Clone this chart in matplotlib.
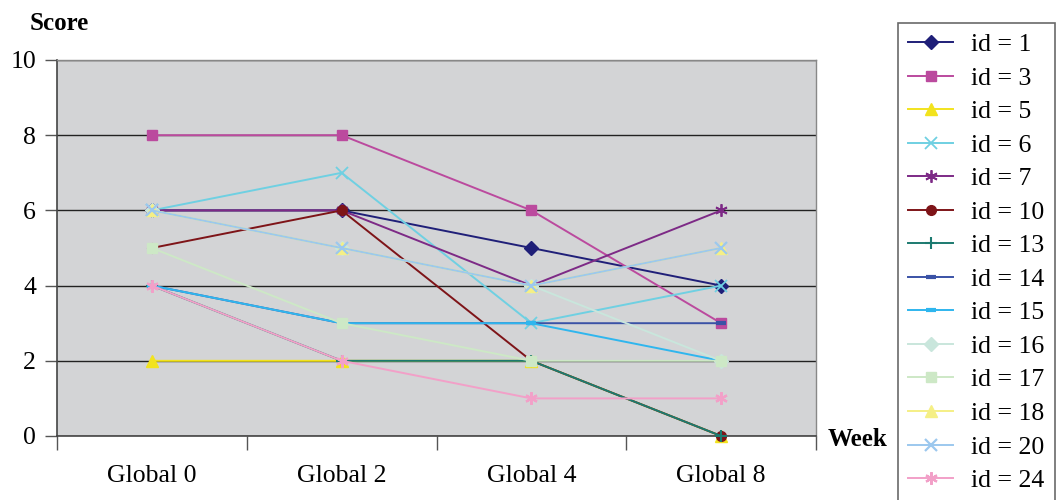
import numpy as np
import matplotlib
matplotlib.use("Agg")
import matplotlib.pyplot as plt
from matplotlib.lines import Line2D

plt.rcParams["font.family"] = ["Liberation Serif", "DejaVu Serif"]

# scores per patient over the four visits
weeks = ["Global 0", "Global 2", "Global 4", "Global 8"]
id_1 = [6, 6, 5, 4]
id_3 = [8, 8, 6, 3]
id_5 = [2, 2, 2, 0]
id_6 = [6, 7, 3, 4]
id_7 = [6, 6, 4, 6]
id_10 = [5, 6, 2, 0]
id_13 = [4, 2, 2, 0]
id_14 = [4, 3, 3, 3]
id_15 = [4, 3, 3, 2]
id_16 = [6, 5, 4, 2]
id_17 = [5, 3, 2, 2]
id_18 = [6, 5, 4, 5]
id_20 = [6, 5, 4, 5]
id_24 = [4, 2, 1, 1]

# label, values, colour, marker, marker size, marker edge width
series = [
    ("id = 1", id_1, "#1f1f78", "D", 7, 1),
    ("id = 3", id_3, "#bb4a9e", "s", 7, 1),
    ("id = 5", id_5, "#f2e31e", "^", 8, 1),
    ("id = 6", id_6, "#6fd0e2", "x", 8, 1.3),
    ("id = 7", id_7, "#7d2a86", (6, 2, 0), 9, 1.3),
    ("id = 10", id_10, "#7e1418", "o", 7, 1),
    ("id = 13", id_13, "#1c7a70", "+", 9, 1.5),
    ("id = 14", id_14, "#3a52a6", "_", 7, 3),
    ("id = 15", id_15, "#2fb6ee", "_", 7, 3),
    ("id = 16", id_16, "#c9e6dc", "D", 7, 1),
    ("id = 17", id_17, "#cde8c6", "s", 7, 1),
    ("id = 18", id_18, "#f5ef85", "^", 8, 1),
    ("id = 20", id_20, "#9cc8ee", "x", 8, 1.6),
    ("id = 24", id_24, "#f2a0c8", (6, 2, 0), 9, 1.6),
]

fig = plt.figure(figsize=(10.61, 5.0), dpi=100)
ax = fig.add_axes([57 / 1061, 64 / 500, 759 / 1061, 376 / 500])
ax.set_facecolor("#d3d4d6")

x = np.arange(len(weeks))
handles = []
for label, vals, col, mk, ms, mew in series:
    ax.plot(x, vals, color=col, lw=1.4, marker=mk, ms=ms, mew=mew,
            mec=col, mfc=col, zorder=3, clip_on=False)
    handles.append(Line2D([], [], color=col, lw=1.4, marker=mk, ms=ms,
                          mew=mew, mec=col, mfc=col))

ax.set_xlim(-0.5, 3.5)
ax.set_ylim(0, 10)
ax.set_yticks(range(0, 11, 2))
ax.yaxis.grid(True, color="#222222", lw=1.0, zorder=1)
ax.set_axisbelow(True)

ax.set_xticks(x)
ax.set_xticklabels(weeks)
ax.set_xticks(np.arange(-0.5, 4.0, 1.0), minor=True)
ax.tick_params(axis="x", which="major", length=0, pad=21, labelsize=18.5)
ax.tick_params(axis="x", which="minor", length=10, width=1, color="#555555",
               direction="out")
ax.tick_params(axis="y", length=9, width=1, color="#555555", pad=6,
               labelsize=18.5)

for side in ("left", "bottom"):
    ax.spines[side].set_color("#444444")
    ax.spines[side].set_linewidth(1.2)
for side in ("top", "right"):
    ax.spines[side].set_color("#888888")
    ax.spines[side].set_linewidth(1.0)

fig.text(30 / 1061, 1 - 23 / 500, "Score", fontsize=18, fontweight="bold",
         ha="left", va="center")
fig.text(828 / 1061, 1 - 440 / 500, "Week", fontsize=18, fontweight="bold",
         ha="left", va="center")

leg = fig.legend(handles, [s[0] for s in series], loc="upper left",
                 bbox_to_anchor=(898 / 1061, 1 - 23 / 500), fontsize=18.5,
                 frameon=True, fancybox=False, handlelength=1.75,
                 handletextpad=0.7, labelspacing=0.41, borderpad=0.4,
                 borderaxespad=0)
leg.get_frame().set_edgecolor("#444444")
leg.get_frame().set_linewidth(1.2)

fig.savefig("out.png", dpi=100)
